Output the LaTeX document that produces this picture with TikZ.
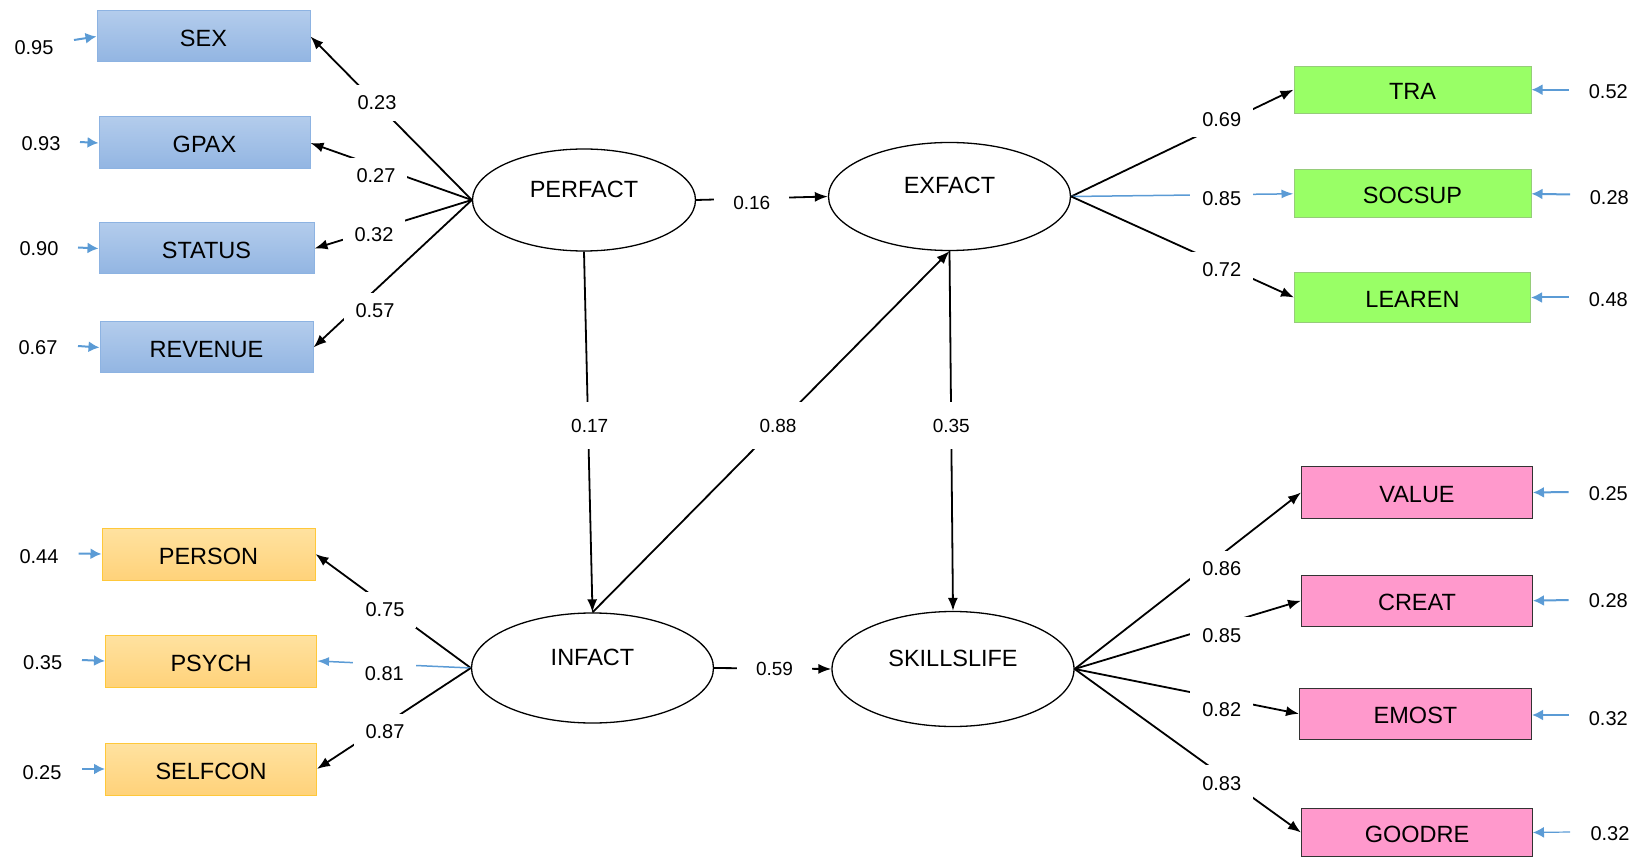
\documentclass[tikz,border=0pt]{standalone}
\usepackage{fontspec}
\setmainfont{Liberation Sans}
\usetikzlibrary{shapes.geometric,arrows.meta,shadings}

\definecolor{errblue}{HTML}{5B9BD5}
\definecolor{bluetop}{HTML}{B3CCEC}
\definecolor{bluebot}{HTML}{92B5E2}
\definecolor{blueline}{HTML}{8DB3E2}
\definecolor{orangetop}{HTML}{FFE2A0}
\definecolor{orangebot}{HTML}{FFD27A}
\definecolor{orangeline}{HTML}{FFC83A}
\definecolor{greenfill}{HTML}{99FF66}
\definecolor{greenline}{HTML}{96CC7A}
\definecolor{pinkfill}{HTML}{FF99CC}
\definecolor{pinkline}{HTML}{333333}

\begin{document}
\begin{tikzpicture}[x=1pt,y=-1pt,
  boxfont/.style={font=\fontsize{23.5}{26}\selectfont},
  obsbox/.style={rectangle, boxfont, inner sep=0pt, line width=1pt,
    text height=20pt, text depth=0pt},
  bluebox/.style={obsbox, draw=blueline, top color=bluetop, bottom color=bluebot},
  orangebox/.style={obsbox, draw=orangeline, top color=orangetop, bottom color=orangebot},
  greenbox/.style={obsbox, draw=greenline, fill=greenfill},
  pinkbox/.style={obsbox, draw=pinkline, fill=pinkfill},
  latent/.style={ellipse, draw, line width=1.3pt, inner sep=0pt,
    font=\fontsize{23.5}{26}\selectfont, text depth=22pt},
  ld/.style={line width=1.8pt, -{Latex[length=13pt,width=10pt]}},
  ldblue/.style={draw=errblue, line width=1.5pt, -{Latex[length=12pt,width=9pt]}},
  errarrow/.style={draw=errblue, line width=2pt, -{Latex[length=11pt,width=11pt]}},
  coef/.style={fill=white, inner xsep=12pt, inner ysep=11pt,
    font=\fontsize{20}{24}\selectfont},
  coefc/.style={fill=white, inner xsep=19pt, inner ysep=17pt,
    font=\fontsize{19}{22}\selectfont},
  errnum/.style={inner sep=0pt, font=\fontsize{20}{24}\selectfont}
]
\useasboundingbox (0,0) rectangle (1639,858);

% indicators of PERFACT
\node[bluebox, minimum width=213pt, minimum height=51pt] (sex) at (203.5,36.5) {SEX};
\node[bluebox, minimum width=211pt, minimum height=52pt] (gpax) at (204.5,143) {GPAX};
\node[bluebox, minimum width=215pt, minimum height=51pt] (status) at (206.5,248.5) {STATUS};
\node[bluebox, minimum width=213pt, minimum height=51pt] (revenue) at (206.5,347.5) {REVENUE};

% indicators of INFACT
\node[orangebox, minimum width=213pt, minimum height=52pt] (person) at (208.5,554) {PERSON};
\node[orangebox, minimum width=211pt, minimum height=52pt] (psych) at (211,661) {PSYCH};
\node[orangebox, minimum width=211pt, minimum height=52pt] (selfcon) at (211,769) {SELFCON};

% indicators of EXFACT
\node[greenbox, minimum width=237pt, minimum height=47pt] (tra) at (1412.5,89.7) {TRA};
\node[greenbox, minimum width=237pt, minimum height=48pt] (socsup) at (1412.5,193.8) {SOCSUP};
\node[greenbox, minimum width=236pt, minimum height=50pt] (learen) at (1412.5,297.5) {LEAREN};

% indicators of SKILLSLIFE
\node[pinkbox, minimum width=231pt, minimum height=52pt] (value) at (1417,492.5) {VALUE};
\node[pinkbox, minimum width=231pt, minimum height=51pt] (creat) at (1417,600.7) {CREAT};
\node[pinkbox, minimum width=232pt, minimum height=51pt] (emost) at (1415.5,713.8) {EMOST};
\node[pinkbox, minimum width=231pt, minimum height=48pt] (goodre) at (1417,832.5) {GOODRE};

% latent variables
\node[latent, minimum width=223pt, minimum height=102pt] (perfact) at (584,200) {PERFACT};
\node[latent, minimum width=242pt, minimum height=108pt] (exfact) at (949.5,196.5) {EXFACT};
\node[latent, minimum width=242pt, minimum height=110pt] (infact) at (592.5,668) {INFACT};
\node[latent, minimum width=242pt, minimum height=115pt] (skillslife) at (953,669) {SKILLSLIFE};

% loadings
\draw[ld] (perfact.west) -- (sex.east);
\draw[ld] (perfact.west) -- (gpax.east);
\draw[ld] (perfact.west) -- (status.east);
\draw[ld] (perfact.west) -- (revenue.east);
\draw[ld] (infact.west) -- (person.east);
\draw[ldblue] (infact.west) -- (psych.east);
\draw[ld] (infact.west) -- (selfcon.east);
\draw[ld] (exfact.east) -- (tra.west);
\draw[ldblue] (exfact.east) -- (socsup.west);
\draw[ld] (exfact.east) -- (learen.west);
\draw[ld] (skillslife.east) -- (value.west);
\draw[ld] (skillslife.east) -- (creat.west);
\draw[ld] (skillslife.east) -- (emost.west);
\draw[ld] (skillslife.east) -- (goodre.west);

% structural paths
\draw[ld] (perfact.east) -- (exfact.west);
\draw[ld] (perfact.south) -- (infact.north);
\draw[ld] (infact.north) -- (exfact.south);
\draw[ld] (exfact.south) -- (skillslife.north);
\draw[ld] (infact.east) -- (skillslife.west);

% coefficient labels
\node[coef] (c1) at (377,103) {0.23};
\node[coef] (c2) at (376,176) {0.27};
\node[coef] (c3) at (374,235) {0.32};
\node[coef] (c4) at (375,311) {0.57};
\node[coef] (c5) at (385,610) {0.75};
\node[coef] (c6) at (384.3,673.3) {0.81};
\node[coef] (c7) at (385,731.7) {0.87};
\node[coef] (c8) at (1221.7,119.3) {0.69};
\node[coef] (c9) at (1221.7,199) {0.85};
\node[coef] (c10) at (1221.7,270) {0.72};
\node[coef] (c11) at (1221.7,569) {0.86};
\node[coef] (c12) at (1221.7,635.3) {0.85};
\node[coef] (c13) at (1221.7,709.3) {0.82};
\node[coef] (c14) at (1221.7,783.3) {0.83};
\node[coefc] (s1) at (751.8,203) {0.16};
\node[coefc] (s2) at (589.7,425.7) {0.17};
\node[coefc] (s3) at (778,425.7) {0.88};
\node[coefc] (s4) at (951.3,425.7) {0.35};
\node[coefc] (s5) at (774.5,669.3) {0.59};

% error terms
\coordinate (esex) at (74,40);
\coordinate (egpax) at (80,142);
\coordinate (estatus) at (78,247.5);
\coordinate (erevenue) at (78,346);
\coordinate (eperson) at (78.7,553.5);
\coordinate (epsych) at (82,660);
\coordinate (eselfcon) at (82,769);
\coordinate (etra) at (1568.7,89.7);
\coordinate (esocsup) at (1570,194.5);
\coordinate (elearen) at (1568.7,297.5);
\coordinate (evalue) at (1568.7,492);
\coordinate (ecreat) at (1568.7,600);
\coordinate (eemost) at (1568.7,715);
\coordinate (egoodre) at (1570,832);

\draw[errarrow] (esex) -- (sex.west);
\draw[errarrow] (egpax) -- (gpax.west);
\draw[errarrow] (estatus) -- (status.west);
\draw[errarrow] (erevenue) -- (revenue.west);
\draw[errarrow] (eperson) -- (person.west);
\draw[errarrow] (epsych) -- (psych.west);
\draw[errarrow] (eselfcon) -- (selfcon.west);
\draw[errarrow] (etra) -- (tra.east);
\draw[errarrow] (esocsup) -- (socsup.east);
\draw[errarrow] (elearen) -- (learen.east);
\draw[errarrow] (evalue) -- (value.east);
\draw[errarrow] (ecreat) -- (creat.east);
\draw[errarrow] (eemost) -- (emost.east |- eemost);
\draw[errarrow, line width=1.2pt] (egoodre) -- (goodre.east);

\node[errnum] (r1) at (34,48) {0.95};
\node[errnum] (r2) at (41,144) {0.93};
\node[errnum] (r3) at (39,249) {0.90};
\node[errnum] (r4) at (38,348) {0.67};
\node[errnum] (r5) at (39,556.7) {0.44};
\node[errnum] (r6) at (42.7,662.7) {0.35};
\node[errnum] (r7) at (42,772.7) {0.25};
\node[errnum] (r8) at (1608.3,91.7) {0.52};
\node[errnum] (r9) at (1609.3,197.3) {0.28};
\node[errnum] (r10) at (1608.3,299.3) {0.48};
\node[errnum] (r11) at (1608.3,493.3) {0.25};
\node[errnum] (r12) at (1608.3,601) {0.28};
\node[errnum] (r13) at (1608.3,718.3) {0.32};
\node[errnum] (r14) at (1610,833.3) {0.32};
\end{tikzpicture}
\end{document}
